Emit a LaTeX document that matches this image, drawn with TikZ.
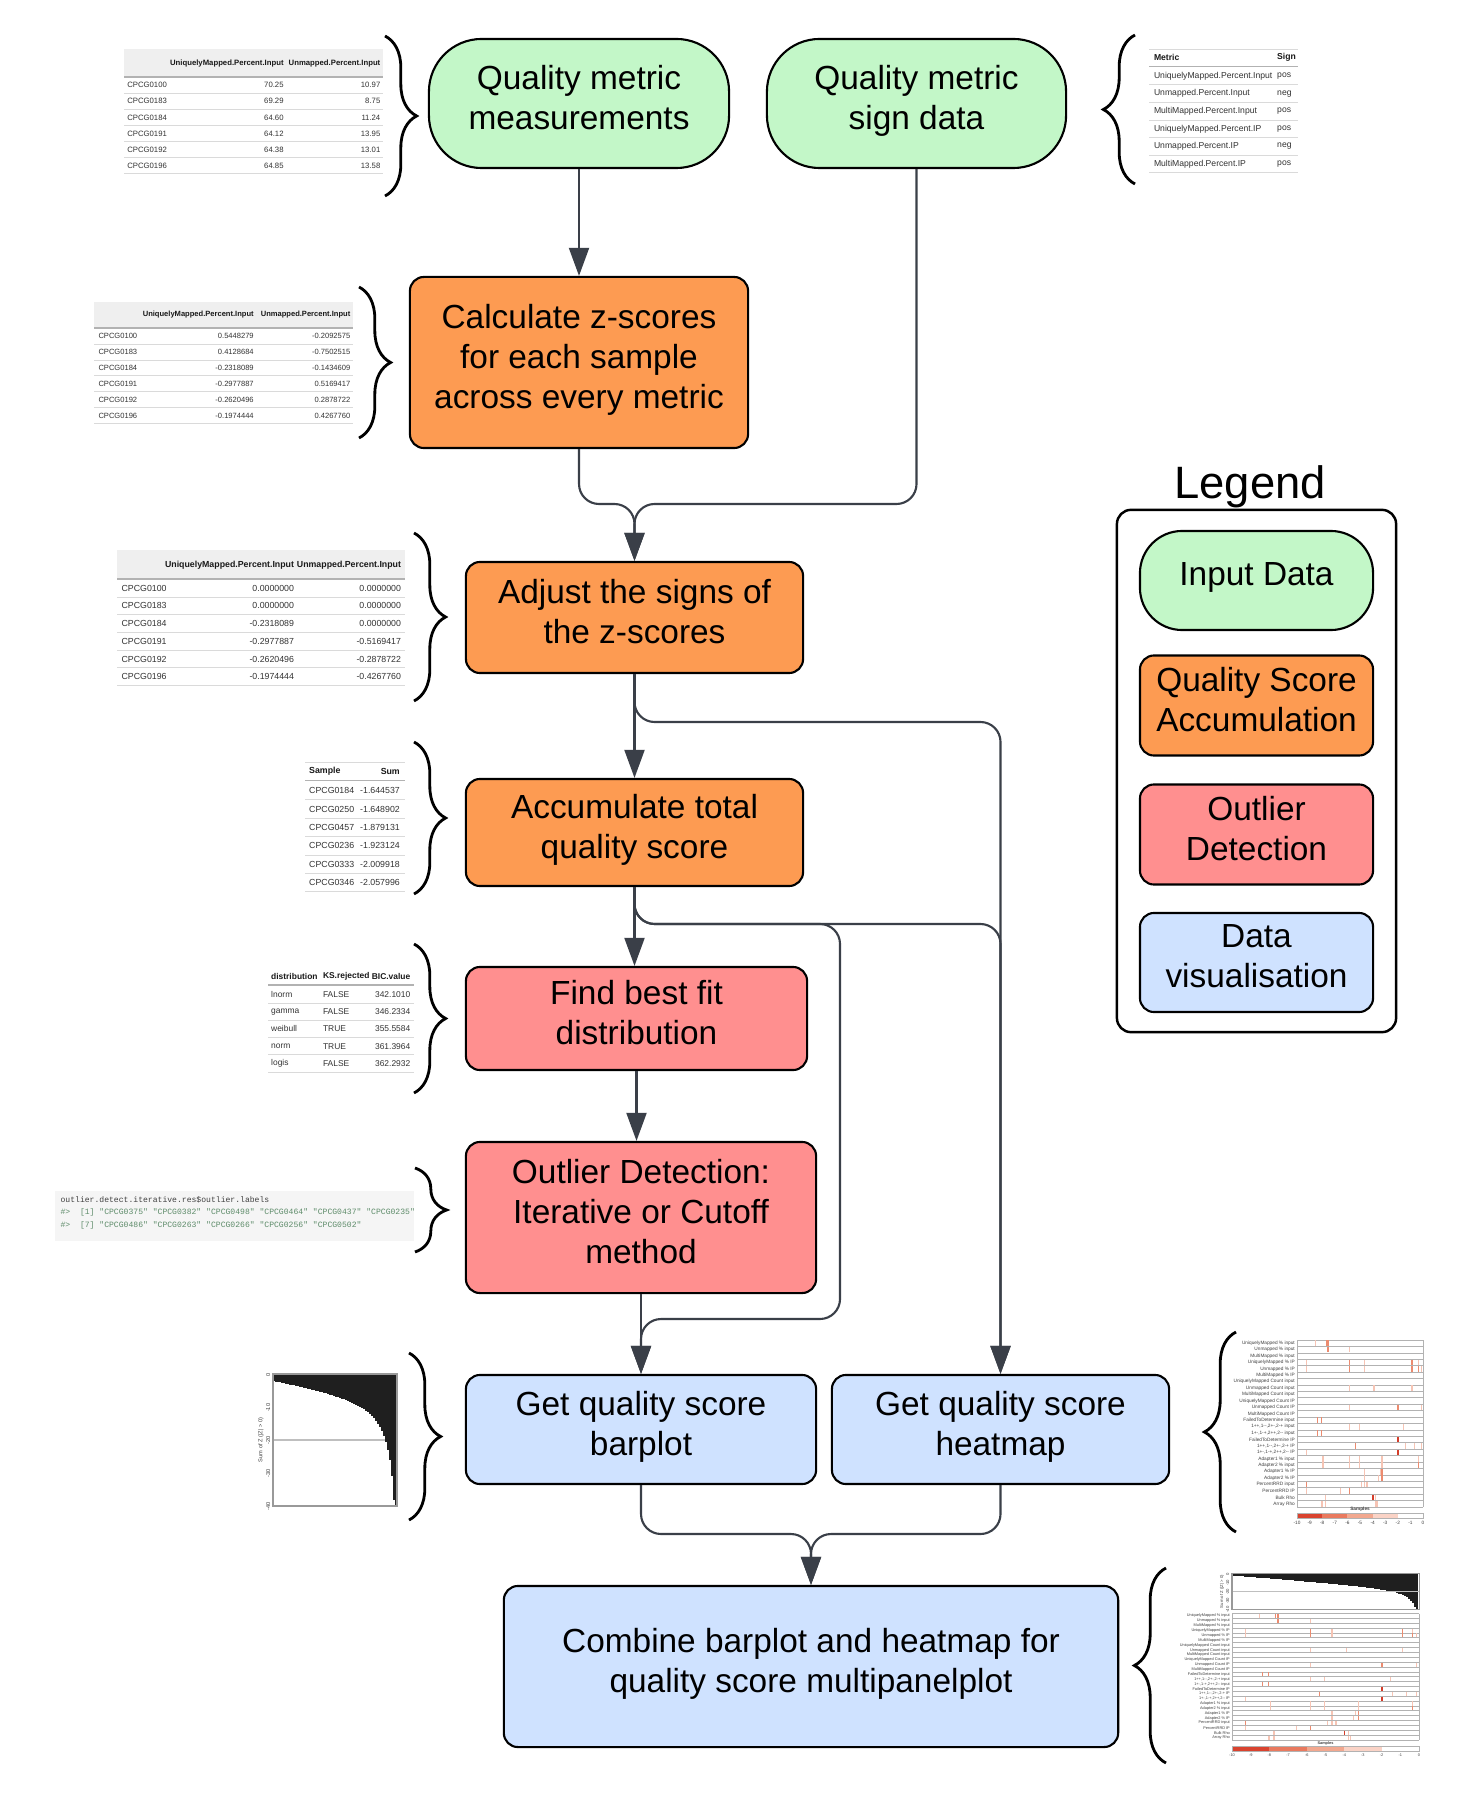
\documentclass[tikz,border=0pt]{standalone}
\usepackage{fontspec}
\setmainfont{Liberation Sans}
\setmonofont{Liberation Mono}
\usetikzlibrary{arrows.meta,decorations.pathreplacing}

\definecolor{inputgreen}{HTML}{C3F7C8}
\definecolor{accorange}{HTML}{FD9B52}
\definecolor{outred}{HTML}{FF8F8F}
\definecolor{visblue}{HTML}{CFE2FF}
\definecolor{flowgray}{HTML}{3A3F48}
\definecolor{headgray}{HTML}{EFEFEF}
\definecolor{rulegray}{HTML}{DADADA}
\definecolor{codebg}{HTML}{F5F5F5}
\definecolor{codegreen}{HTML}{5E8C6A}
\definecolor{heatl}{HTML}{F6C4B4}
\definecolor{heatm}{HTML}{EC8B6F}
\definecolor{heatd}{HTML}{D43D2A}
\definecolor{cbone}{HTML}{D9432F}
\definecolor{cbtwo}{HTML}{E97A5F}
\definecolor{cbthree}{HTML}{F2A88F}
\definecolor{cbfour}{HTML}{FAD3C6}

\tikzset{
  box/.style={draw=black, line width=0.6pt, rounded corners=4pt, align=center, text=black, font=\fontsize{9.5}{11.4}\selectfont,
    execute at end node={\rule[-3.5pt]{0pt}{3.5pt}}},
  inbox/.style={box, fill=inputgreen, rounded corners=15pt},
  accbox/.style={box, fill=accorange},
  outbox/.style={box, fill=outred},
  visbox/.style={box, fill=visblue},
  flow/.style={draw=flowgray, line width=0.6pt, rounded corners=0.2cm, -{Triangle[length=8pt,width=5.7pt]}},
  curly/.style={draw=black, line width=0.8pt, decorate, decoration={brace, amplitude=9pt}},
  cell/.style={inner sep=0pt, text=black!80, font=\fontsize{#1}{#1}\selectfont},
  headcell/.style={inner sep=0pt, text=black!90, font=\fontsize{#1}{#1}\selectfont\bfseries},
  rowlabel/.style={inner sep=0pt, text=black!75, font=\fontsize{#1}{#1}\selectfont},
  codeline/.style={inner sep=0pt, anchor=west, font=\fontsize{2.3}{2.3}\selectfont\ttfamily},
  tabline/.style={draw=rulegray, line width=0.25pt},
  headline/.style={draw=black!30, line width=0.35pt},
  hmrule/.style={draw=black!30, line width=0.2pt}
}

% heatmap rows and marks (row/position/intensity)
\def\qsrows{UniquelyMapped \% input, Unmapped \% input, MultiMapped \% input,
  UniquelyMapped \% IP, Unmapped \% IP, MultiMapped \% IP,
  UniquelyMapped Count input, Unmapped Count input, MultiMapped Count input,
  UniquelyMapped Count IP, Unmapped Count IP, MultiMapped Count IP,
  FailedToDetermine input, {1++,1-{}-,2+-,2-+ input}, {1+-,1-+,2++,2-{}- input},
  FailedToDetermine IP, {1++,1-{}-,2+-,2-+ IP}, {1+-,1-+,2++,2-{}- IP},
  Adapter1 \% input, Adapter2 \% input, Adapter1 \% IP, Adapter2 \% IP,
  PercentRRD input, PercentRRD IP, Bulk Rho, Array Rho}
\def\qsmarks{0/14.6/l, 0/23.3/m, 0/24.6/m, 1/24.6/m, 1/41.8/l, 3/7.4/l, 3/41.8/m,
  3/53.4/l, 3/91.3/m, 3/96.6/l, 4/7.4/l, 4/41.8/m, 4/53.4/l, 4/91.3/m, 4/96.6/m,
  4/98.5/l, 7/41.8/l, 7/61.1/l, 7/91.3/l, 10/41.8/l, 10/80.2/m, 10/98.5/l,
  12/16.4/m, 12/19.3/m, 13/41.8/l, 13/49.5/l, 13/84.7/l, 14/16.4/m, 14/19.3/m,
  15/80.2/d, 16/46.6/m, 16/86.0/l, 16/93.4/l, 16/98.5/l, 17/7.4/l, 17/80.2/d,
  18/20.6/l, 18/41.8/l, 18/49.5/l, 18/67.5/l, 18/96.6/l, 19/20.6/l, 19/41.8/l,
  19/49.5/l, 19/67.5/l, 19/96.6/m, 20/53.4/l, 20/66.1/l, 20/67.5/m, 21/53.4/l,
  21/64.8/l, 21/67.5/m, 22/7.4/m, 22/51.1/l, 22/53.4/l, 22/55.6/l, 23/7.4/l,
  23/34.4/l, 23/41.8/m, 24/22.5/l, 24/60.3/d, 24/62.2/l, 25/19.8/l, 25/22.5/l,
  25/62.2/l, 25/63.5/l}

% x, y, width, height, name prefix, label size
\newcommand{\qsheatmap}[6]{%
  \begin{scope}[shift={(#1,#2)}]
    \foreach \rw in {0,...,26}
      \draw[hmrule] (0,\rw/26*#4) -- (#3,\rw/26*#4);
    \draw[hmrule] (0,0) -- (0,#4);
    \draw[hmrule] (#3,0) -- (#3,#4);
    \foreach \rw/\fx/\hc in \qsmarks
      \draw[heat\hc, line width=0.35pt] (\fx/100*#3,\rw/26*#4+0.4) -- (\fx/100*#3,\rw/26*#4+#4/26-0.4);
    \foreach \lab [count=\ii from 0] in \qsrows
      \node[rowlabel=#6, anchor=east] (#5r\ii) at (-1.5,\ii/26*#4+#4/52) {\lab};
    \node[rowlabel=#6, font=\fontsize{#6}{#6}\selectfont\bfseries, anchor=south] (#5s) at (#3/2,#4+5.5) {Samples};
    \fill[cbone] (0,#4+6) rectangle (#3*0.2,#4+11);
    \fill[cbtwo] (#3*0.2,#4+6) rectangle (#3*0.4,#4+11);
    \fill[cbthree] (#3*0.4,#4+6) rectangle (#3*0.6,#4+11);
    \fill[cbfour] (#3*0.6,#4+6) rectangle (#3*0.8,#4+11);
    \draw[hmrule] (0,#4+6) rectangle (#3,#4+11);
    \foreach \tk [count=\kk from 0] in {-10,-9,...,0}
      \node[rowlabel=#6, anchor=north] (#5t\kk) at (\kk/10*#3,#4+13) {\tk};
  \end{scope}}

\begin{document}
\begin{tikzpicture}[x=0.01cm, y=-0.01cm]
\useasboundingbox (0,0) rectangle (1464,1804);
\fill[white] (0,0) rectangle (1464,1804);

% Drawing the flow boxes
\node[inbox, minimum width=3cm, minimum height=1.29cm] (meas) at (579,103.5) {Quality metric\\measurements};
\node[inbox, minimum width=2.99cm, minimum height=1.29cm] (sign) at (916.5,103.5) {Quality metric\\sign data};
\node[accbox, minimum width=3.38cm, minimum height=1.71cm] (zsc) at (579,362.5) {Calculate z-scores\\for each sample\\across every metric};
\node[accbox, minimum width=3.37cm, minimum height=1.11cm] (adj) at (634.5,617.5) {Adjust the signs of\\the z-scores};
\node[accbox, minimum width=3.37cm, minimum height=1.07cm] (acc) at (634.5,832.5) {Accumulate total\\quality score};
\node[outbox, minimum width=3.41cm, minimum height=1.03cm] (fit) at (636.5,1018.5) {Find best fit\\distribution};
\node[outbox, minimum width=3.5cm, minimum height=1.51cm] (outl) at (641,1217.5) {Outlier Detection:\\Iterative or Cutoff\\method};
\node[visbox, minimum width=3.5cm, minimum height=1.09cm] (bar) at (641,1429.5) {Get quality score\\barplot};
\node[visbox, minimum width=3.37cm, minimum height=1.09cm] (heat) at (1000.5,1429.5) {Get quality score\\heatmap};
\node[visbox, minimum width=6.14cm, minimum height=1.61cm] (comb) at (811,1666.5) {Combine barplot and heatmap for\\quality score multipanelplot};

% Drawing the legend
\node[font=\fontsize{12.9}{15}\selectfont] (legtitle) at (1250,487) {Legend};
\node[draw=black, line width=0.7pt, rounded corners=4pt, minimum width=2.79cm, minimum height=5.22cm] (legframe) at (1256.5,771) {};
\node[inbox, rounded corners=12pt, minimum width=2.33cm, minimum height=0.99cm] (leginput) at (1256.5,580.5) {Input Data};
\node[accbox, minimum width=2.33cm, minimum height=0.99cm] (legacc) at (1256.5,705.5) {Quality Score\\Accumulation};
\node[outbox, minimum width=2.33cm, minimum height=0.99cm] (legout) at (1256.5,834.5) {Outlier\\Detection};
\node[visbox, minimum width=2.33cm, minimum height=0.99cm] (legvis) at (1256.5,962.5) {Data\\visualisation};

% Drawing connectors
\coordinate (mergeA) at (634.5,504);
\coordinate (splitA) at (1000.5,722);
\coordinate (splitB) at (840,924);
\coordinate (joinB) at (641,1319);
\coordinate (mergeC) at (811,1534);
\draw[flow] (meas) -- (zsc);
\draw[flow] (zsc.south) |- (mergeA) -- (adj.north);
\draw[flow] (sign.south) |- (mergeA) -- (adj.north);
\draw[flow] (adj) -- (acc);
\draw[flow] (adj.south) |- (splitA) -- (heat.north);
\draw[flow] (acc.south) -- (acc.south |- fit.north);
\draw[flow] (acc.south) |- (splitB) |- (joinB) -- (bar.north);
\draw[flow] (acc.south) |- (heat.north |- splitB) -- (heat.north);
\draw[flow] (fit.south) -- (fit.south |- outl.north);
\draw[flow] (outl) -- (bar);
\draw[flow] (bar.south) |- (mergeC) -- (comb.north);
\draw[flow] (heat.south) |- (mergeC) -- (comb.north);

% Drawing braces
\draw[curly] (385,36) -- (385,196);
\draw[curly] (1135,184) -- (1135,35);
\draw[curly] (359,287) -- (359,438);
\draw[curly] (414,533) -- (414,701);
\draw[curly] (414,742) -- (414,894);
\draw[curly] (414,944) -- (414,1093);
\draw[curly] (415,1168) -- (415,1252);
\draw[curly] (409,1353) -- (409,1520);
\draw[curly] (1236,1532) -- (1236,1332);
\draw[curly] (1166,1763) -- (1166,1568);

% Table of measurements
\fill[headgray] (124,49.5) rectangle (383,77);
\draw[headline] (124,77) -- (383,77);
\node[headcell=2.2, anchor=east] (mhead1) at (284.3,63.3) {UniquelyMapped.Percent.Input};
\node[headcell=2.2, anchor=east] (mhead2) at (381,63.3) {Unmapped.Percent.Input};
\foreach \s/\a/\b [count=\i] in {CPCG0100/70.25/10.97, CPCG0183/69.29/8.75, CPCG0184/64.60/11.24, CPCG0191/64.12/13.95, CPCG0192/64.38/13.01, CPCG0196/64.85/13.58}{
  \node[cell=2.2, anchor=west] (ms\i) at (126.6,69.1+16.1*\i) {\s};
  \node[cell=2.2, anchor=east] (ma\i) at (284.3,69.1+16.1*\i) {\a};
  \node[cell=2.2, anchor=east] (mb\i) at (381,69.1+16.1*\i) {\b};
  \draw[tabline] (124,77.15+16.1*\i) -- (383,77.15+16.1*\i);
}

% Table of metric signs
\draw[tabline] (1149,49.3) -- (1298,49.3);
\draw[headline] (1149,66.8) -- (1298,66.8);
\node[headcell=2.45, anchor=west] (shead1) at (1153.3,57.6) {Metric};
\node[headcell=2.45, anchor=west] (shead2) at (1276.5,57.6) {Sign};
\foreach \s/\a [count=\i] in {UniquelyMapped.Percent.Input/pos, Unmapped.Percent.Input/neg, MultiMapped.Percent.Input/pos, UniquelyMapped.Percent.IP/pos, Unmapped.Percent.IP/neg, MultiMapped.Percent.IP/pos}{
  \node[cell=2.45, anchor=west] (sm\i) at (1153.3,58.4+17.6*\i) {\s};
  \node[cell=2.45, anchor=west] (sg\i) at (1276.5,58.4+17.6*\i) {\a};
  \draw[tabline] (1149,67.2+17.6*\i) -- (1298,67.2+17.6*\i);
}

% Table of z-scores
\fill[headgray] (94.4,301.6) rectangle (353.4,328);
\draw[headline] (94.4,328) -- (353.4,328);
\node[headcell=2.15, anchor=east] (zhead1) at (254.4,314.2) {UniquelyMapped.Percent.Input};
\node[headcell=2.15, anchor=east] (zhead2) at (351,314.2) {Unmapped.Percent.Input};
\foreach \s/\a/\b [count=\i] in {CPCG0100/0.5448279/-0.2092575, CPCG0183/0.4128684/-0.7502515, CPCG0184/-0.2318089/-0.1434609, CPCG0191/-0.2977887/0.5169417, CPCG0192/-0.2620496/0.2878722, CPCG0196/-0.1974444/0.4267760}{
  \node[cell=2.15, anchor=west] (zs\i) at (97.8,320.2+15.9*\i) {\s};
  \node[cell=2.15, anchor=east] (za\i) at (254.4,320.2+15.9*\i) {\a};
  \node[cell=2.15, anchor=east] (zb\i) at (351,320.2+15.9*\i) {\b};
  \draw[tabline] (94.4,328.15+15.9*\i) -- (353.4,328.15+15.9*\i);
}

% Table of adjusted z-scores
\fill[headgray] (117.4,550) rectangle (405,579);
\draw[headline] (117.4,579) -- (405,579);
\node[headcell=2.5, anchor=east] (ahead1) at (294.7,565) {UniquelyMapped.Percent.Input};
\node[headcell=2.5, anchor=east] (ahead2) at (401.7,565) {Unmapped.Percent.Input};
\foreach \s/\a/\b [count=\i] in {CPCG0100/0.0000000/0.0000000, CPCG0183/0.0000000/0.0000000, CPCG0184/-0.2318089/0.0000000, CPCG0191/-0.2977887/-0.5169417, CPCG0192/-0.2620496/-0.2878722, CPCG0196/-0.1974444/-0.4267760}{
  \node[cell=2.5, anchor=west] (as\i) at (120.9,570.5+17.7*\i) {\s};
  \node[cell=2.5, anchor=east] (aa\i) at (294.7,570.5+17.7*\i) {\a};
  \node[cell=2.5, anchor=east] (ab\i) at (401.7,570.5+17.7*\i) {\b};
  \draw[tabline] (117.4,579.35+17.7*\i) -- (405,579.35+17.7*\i);
}

% Table of sums
\draw[tabline] (305,762) -- (405,762);
\draw[headline] (305,780.4) -- (405,780.4);
\node[headcell=2.5, anchor=west] (uhead1) at (308.5,771.2) {Sample};
\node[headcell=2.5, anchor=east] (uhead2) at (400.5,771.2) {Sum};
\foreach \s/\a [count=\i] in {CPCG0184/-1.644537, CPCG0250/-1.648902, CPCG0457/-1.879131, CPCG0236/-1.923124, CPCG0333/-2.009918, CPCG0346/-2.057996}{
  \node[cell=2.5, anchor=west] (us\i) at (308.5,772.3+18.4*\i) {\s};
  \node[cell=2.5, anchor=east] (ua\i) at (400.5,772.3+18.4*\i) {\a};
  \draw[tabline] (305,781.5+18.4*\i) -- (405,781.5+18.4*\i);
}

% Table of fitted distributions
\draw[headline] (268.2,985) -- (414.4,985);
\node[headcell=2.4, anchor=west] (dhead1) at (270.5,976) {distribution};
\node[headcell=2.4, anchor=west] (dhead2) at (322.3,976) {KS.rejected};
\node[headcell=2.4, anchor=east] (dhead3) at (411,976) {BIC.value};
\foreach \s/\a/\b [count=\i] in {lnorm/FALSE/342.1010, gamma/FALSE/346.2334, weibull/TRUE/355.5584, norm/TRUE/361.3964, logis/FALSE/362.2932}{
  \node[cell=2.4, anchor=west] (ds\i) at (270.5,977.2+17.25*\i) {\s};
  \node[cell=2.4, anchor=west] (da\i) at (322.3,977.2+17.25*\i) {\a};
  \node[cell=2.4, anchor=east] (db\i) at (411,977.2+17.25*\i) {\b};
  \draw[tabline] (268.2,985.8+17.25*\i) -- (414.4,985.8+17.25*\i);
}

% Code block of outlier labels
\fill[codebg] (55.2,1191.3) rectangle (414.4,1240.8);
\node[codeline, text=black!75] (code1) at (59.9,1199.4) {outlier.detect.iterative.res\$outlier.labels};
\node[codeline, text=codegreen] (code2) at (59.9,1212) {\#>~~[1] "CPCG0375" "CPCG0382" "CPCG0498" "CPCG0464" "CPCG0437" "CPCG0235"};
\node[codeline, text=codegreen] (code3) at (59.9,1225.8) {\#>~~[7] "CPCG0486" "CPCG0263" "CPCG0266" "CPCG0256" "CPCG0502"};

% Barplot picture
\draw[black!25, line width=0.3pt] (273,1440) -- (397,1440);
\foreach \kk [evaluate=\kk as \tt using (\kk+0.5)/62] in {0,...,61}{
  \pgfmathsetmacro\dd{min(131,7+20*\tt+5.7*(1/(1.03-\tt)-0.971))}
  \fill[black!88] (273+2*\kk,1374) rectangle ++(1.6,\dd);
}
\draw[black!40, line width=0.3pt] (273,1374) rectangle (397,1506);
\foreach \tk [count=\kk from 0] in {0,-10,-20,-30,-40}
  \node[rowlabel=1.6, rotate=90, anchor=south] (bptick\kk) at (271,1375+32.8*\kk) {\tk};
\node[rowlabel=1.6, rotate=90] (bptitle) at (261,1440) {Sum of Z (|Z| > 0)};

% Heatmap picture
\qsheatmap{1297}{1340}{126}{167}{hm}{1.35}

% Multipanel picture
\foreach \kk [evaluate=\kk as \tt using (\kk+0.5)/93] in {0,...,92}{
  \pgfmathsetmacro\dd{min(35.5,2+14*\tt+0.84*(1/(1.03-\tt)-0.971))}
  \fill[black!88] (1232+2*\kk,1573.5) rectangle ++(1.5,\dd);
}
\draw[black!25, line width=0.3pt] (1232,1591.5) -- (1419,1591.5);
\draw[black!40, line width=0.3pt] (1232,1573.5) rectangle (1419,1609.5);
\foreach \tk [count=\kk from 0] in {0,-10,-20,-30,-40}
  \node[rowlabel=1.2, rotate=90, anchor=south] (mptick\kk) at (1230,1574+8.9*\kk) {\tk};
\node[rowlabel=1.2, rotate=90] (mptitle) at (1222,1591.5) {Sum of Z (|Z| > 0)};
\qsheatmap{1232}{1613.5}{187}{126.5}{mp}{1.1}

\end{tikzpicture}
\end{document}
